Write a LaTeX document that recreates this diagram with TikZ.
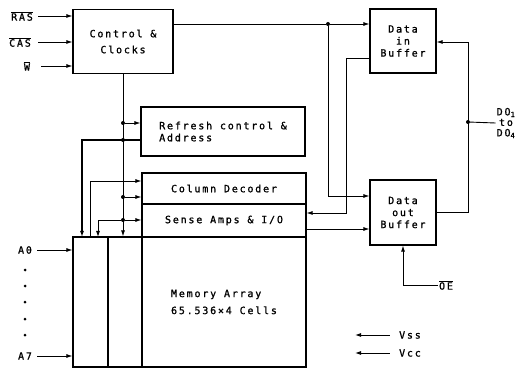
\documentclass[tikz,border=0pt]{standalone}
\usepackage{fontspec}
\setmainfont{DejaVu Sans Mono}[LetterSpace=18,FakeBold=1.2]
\usetikzlibrary{arrows.meta}
\tikzset{
  blk/.style={rectangle, draw, line width=1.1pt, align=center, inner sep=2pt},
  lbl/.style={inner sep=1pt, align=center},
  arr/.style={-{Latex[length=6pt,width=4pt]}, line width=0.9pt},
  wire/.style={line width=0.9pt},
  jn/.style={circle, fill, inner sep=0pt, minimum size=4pt}
}

\begin{document}
\begin{tikzpicture}[x=1pt,y=-1pt,font=\fontsize{10}{12}\selectfont]
\useasboundingbox (0,0) rectangle (527,371);
% blocks
\node[blk, minimum width=100pt, minimum height=64pt] (ctrl) at (123,41.5) {Control \&\\[4pt]Clocks};
\node[blk, minimum width=66pt, minimum height=64pt] (din) at (403,41) {Data\\in\\Buffer};
\node[blk, minimum width=66pt, minimum height=65pt] (dout) at (403,212.5) {Data\\out\\Buffer};
\node[blk, minimum width=164pt, minimum height=49pt, align=left] (refr) at (223,131.5) {Refresh control \&\\Address};
\node[blk, minimum width=164pt, minimum height=31pt] (cdec) at (224,188.5) {Column Decoder};
\node[blk, minimum width=164pt, minimum height=33pt] (samp) at (224,220.5) {Sense Amps \& I/O};
\node[blk, minimum width=164pt, minimum height=130pt, align=left] (marr) at (224,302) {Memory Array\\[5pt]65.536×4 Cells};
\node[blk, minimum width=35pt, minimum height=130pt] (rdA) at (90.5,302) {};
\node[blk, minimum width=34pt, minimum height=130pt] (rdB) at (125,302) {};

% pins
\node[lbl] (ras) at (22,16) {$\overline{\hbox{RAS}}$};
\node[lbl] (cas) at (20,42) {$\overline{\hbox{CAS}}$};
\node[lbl] (wr) at (27,66) {$\overline{\hbox{W}}$};
\node[lbl] (a0) at (25,250) {A0};
\node[lbl] (a7) at (25,356) {A7};
\node[lbl, font=\fontsize{10}{10.5}\selectfont] (dq) at (506,123) {DO\textsubscript{1}\\to\\DO\textsubscript{4}};
\node[lbl] (oe) at (446,285) {$\overline{\hbox{OE}}$};
\node[lbl] (vss) at (410,335) {Vss};
\node[lbl] (vcc) at (410,353) {Vcc};

% junctions and bends
\node[jn] (j1) at (328,24) {};
\node[jn] (j2) at (468,122) {};
\node[jn] (j3) at (123,123) {};
\node[jn] (j4) at (123,140) {};
\node[jn] (j5) at (123,197) {};
\node[jn] (j6) at (123,220) {};
\coordinate (b1) at (346,213);
\coordinate (b2) at (468,42);
\coordinate (ra1) at (82,237);
\coordinate (ra2) at (90,237);
\coordinate (ra3) at (98,237);
\coordinate (vssend) at (355,335);
\coordinate (vccend) at (355,353);

\draw[arr, shorten <=4pt] (ras.east) -- (ras.east -| ctrl.west);
\draw[arr, shorten <=6pt] (cas.east) -- (cas.east -| ctrl.west);
\draw[arr, shorten <=10pt] (wr.east) -- (wr.east -| ctrl.west);

\draw[wire] (ctrl.east |- j1) -- (j1);
\draw[arr] (j1) -- (din.west |- j1);
\draw[arr] (j1) |- (dout.west |- 0,196);
\draw[arr] (din.west |- 0,58) -| (b1) -- (samp.east |- b1);
\draw[arr] (dout.east) -| (b2) -- (din.east |- b2);
\draw[wire] (j2) -- (dq.west);
\draw[arr] (samp.east |- 0,229) -- (dout.west |- 0,229);
\draw[arr] (oe.west) -| (dout.south);
\draw[arr, shorten <=8pt] (vss.west) -- (vssend);
\draw[arr, shorten <=8pt] (vcc.west) -- (vccend);

\draw[arr] (ctrl.south) -- (ctrl.south |- rdB.north);
\draw[arr] (j3) -- (refr.west |- j3);
\draw[arr, line width=1.1pt] (refr.west |- j4) -| (ra1);
\draw[arr] (j5) -- (cdec.west |- j5);
\draw[arr] (ra2) |- (cdec.west |- 0,181);
\draw[arr] (j6) -- (samp.west |- j6);
\draw[arr] (j6) -| (ra3);

\draw[arr, shorten <=4pt] (a0.east) -- (a0.east -| rdA.west);
\draw[arr, shorten <=4pt] (a7.east) -- (a7.east -| rdA.west);
\foreach \y in {270,286,302,319,335}
  \fill (25,\y) circle (1.5pt);
\end{tikzpicture}
\end{document}
